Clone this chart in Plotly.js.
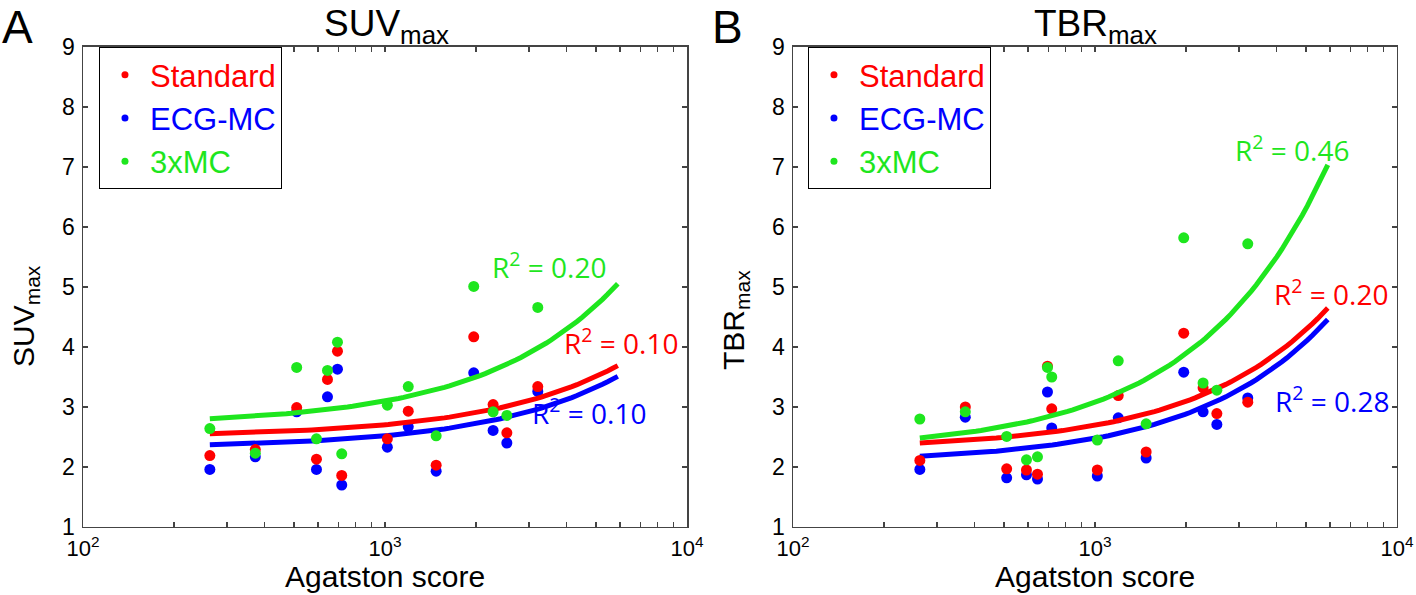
<!DOCTYPE html>
<html>
<head>
<meta charset="utf-8">
<script src="https://cdn.plot.ly/plotly-3.0.1.min.js"></script>
<style>
  html, body { margin: 0; padding: 0; background: #fff; }
  #chart { width: 1416px; height: 595px; }
</style>
</head>
<body>
<div id="chart"></div>
<script>
// Agatston score of each patient (same for both panels)
const agatston = [263, 372, 510, 593, 645, 696, 719, 1018, 1194, 1477, 1967, 2280, 2532, 3205];

// panel A: SUVmax
const suvStandard = [2.19, 2.29, 2.99, 2.13, 3.46, 3.93, 1.86, 2.47, 2.93, 2.03, 4.17, 3.04, 2.57, 3.34];
const suvEcg      = [1.96, 2.17, 2.92, 1.96, 3.17, 3.63, 1.70, 2.33, 2.67, 1.93, 3.57, 2.61, 2.40, 3.26];
const suv3x       = [2.64, 2.23, 3.66, 2.47, 3.61, 4.08, 2.22, 3.03, 3.34, 2.52, 5.01, 2.92, 2.86, 4.66];

// panel B: TBRmax
const tbrStandard = [2.11, 3.00, 1.97, 1.95, 1.88, 3.68, 2.97, 1.95, 3.19, 2.25, 4.23, 3.32, 2.89, 3.08];
const tbrEcg      = [1.96, 2.83, 1.82, 1.87, 1.80, 3.25, 2.65, 1.85, 2.82, 2.15, 3.58, 2.92, 2.71, 3.15];
const tbr3x       = [2.80, 2.92, 2.51, 2.12, 2.17, 3.66, 3.50, 2.45, 3.77, 2.72, 5.82, 3.40, 3.28, 5.72];

// linear fits y = a + b*x  (order: Standard, ECG-MC, 3xMC)
const fitRange = [263, 5900];
const suvFitA = [2.502, 2.317, 2.70];
const suvFitB = [2.013e-4, 2.022e-4, 3.99e-4];
const suvR2   = ['0.10', '0.10', '0.20'];
const tbrFitA = [2.295, 2.074, 2.27];
const tbrFitB = [3.99e-4, 4.04e-4, 8.08e-4];
const tbrR2   = ['0.20', '0.28', '0.46'];

const seriesNames  = ['Standard', 'ECG-MC', '3xMC'];
const seriesColors = ['#ff0000', '#0000ff', '#1ee61e'];

const xTickVals = [];
const xTickText = [];
for (let d = 2; d <= 4; d++) {
  for (let m = 1; m <= 9; m++) {
    if (d === 4 && m > 1) break;
    xTickVals.push(m * Math.pow(10, d));
    xTickText.push(m === 1 ? '10<sup>' + d + '</sup>' : '');
  }
}

function fitCurve(a, b) {
  const xs = [], ys = [];
  const l0 = Math.log10(fitRange[0]), l1 = Math.log10(fitRange[1]);
  for (let i = 0; i <= 80; i++) {
    const x = Math.pow(10, l0 + (l1 - l0) * i / 80);
    xs.push(x);
    ys.push(a + b * x);
  }
  return {xs, ys};
}

const traces = [];
function addPanel(ys, fa, fb, xa, ya, legendId) {
  // draw order: ECG-MC, Standard, 3xMC
  [1, 0, 2].forEach(k => {
    traces.push({
      x: agatston, y: ys[k], xaxis: xa, yaxis: ya,
      type: 'scatter', mode: 'markers', showlegend: false,
      marker: {color: seriesColors[k], size: 11}
    });
    const c = fitCurve(fa[k], fb[k]);
    traces.push({
      x: c.xs, y: c.ys, xaxis: xa, yaxis: ya,
      type: 'scatter', mode: 'lines', showlegend: false,
      line: {color: seriesColors[k], width: 5}
    });
  });
  // legend entries
  [0, 1, 2].forEach(k => {
    traces.push({
      x: [null], y: [null], xaxis: xa, yaxis: ya,
      type: 'scatter', mode: 'markers',
      name: '<span style="color:' + seriesColors[k] + '">' + seriesNames[k] + '</span>',
      legend: legendId, legendgroup: legendId + k,
      marker: {color: seriesColors[k], size: 7}
    });
  });
}
addPanel([suvStandard, suvEcg, suv3x], suvFitA, suvFitB, 'x', 'y', 'legend');
addPanel([tbrStandard, tbrEcg, tbr3x], tbrFitA, tbrFitB, 'x2', 'y2', 'legend2');

const font = 'Liberation Sans, Arial, sans-serif';
const axisX = {
  type: 'log', range: [2, 4],
  tickmode: 'array', tickvals: xTickVals, ticktext: xTickText,
  ticks: 'inside', ticklen: 5, tickwidth: 1.2, tickcolor: '#444',
  showline: true, linecolor: '#444', linewidth: 1.5, mirror: 'ticks',
  showgrid: false, zeroline: false,
  tickfont: {family: font, size: 22, color: '#000'},
  ticklabelstandoff: 1,
  automargin: false
};
const axisY = {
  range: [1, 9], dtick: 1,
  ticks: 'inside', ticklen: 5, tickwidth: 1.2, tickcolor: '#444',
  showline: true, linecolor: '#444', linewidth: 1.5, mirror: 'ticks',
  showgrid: false, zeroline: false,
  tickfont: {family: font, size: 23, color: '#000'},
  ticklabelstandoff: 2,
  automargin: false
};
const yDom = [0.11429, 0.92101];

const legendBase = {
  yanchor: 'top', xanchor: 'left', y: 0.921,
  bgcolor: '#fff', bordercolor: '#000', borderwidth: 1,
  font: {family: font, size: 31},
  itemwidth: 40, tracegroupgap: 0, itemclick: false
};

function r2Note(xref, yref, logx, y, color, r2) {
  return {
    xref: xref, yref: yref, x: logx, y: y, xanchor: 'left', yanchor: 'middle',
    text: 'R<sup>2</sup> = ' + r2, showarrow: false,
    font: {family: 'Open Sans, sans-serif', size: 28, color: color}
  };
}

function paperText(px, py, text, size, angle, anchor) {
  return {
    xref: 'paper', yref: 'paper', x: px / 1416, y: 1 - py / 595,
    xanchor: anchor || 'center', yanchor: 'middle', textangle: angle || 0,
    text: text, showarrow: false, font: {family: font, size: size, color: '#000'}
  };
}

function bottomText(px, text, size) {
  return {
    xref: 'paper', yref: 'paper', x: px / 1416, y: 0,
    xanchor: 'center', yanchor: 'bottom',
    text: text, showarrow: false, font: {family: font, size: size, color: '#000'}
  };
}

const layout = {
  width: 1416, height: 595,
  margin: {l: 0, r: 0, t: 0, b: 0},
  paper_bgcolor: '#fff', plot_bgcolor: '#fff',
  showlegend: true,
  xaxis: Object.assign({}, axisX, {domain: [0.05862, 0.48517], anchor: 'y'}),
  yaxis: Object.assign({}, axisY, {domain: yDom, anchor: 'x'}),
  xaxis2: Object.assign({}, axisX, {domain: [0.56003, 0.98658], anchor: 'y2'}),
  yaxis2: Object.assign({}, axisY, {domain: yDom, anchor: 'x2'}),
  legend: Object.assign({}, legendBase, {x: 0.0699}),
  legend2: Object.assign({}, legendBase, {x: 0.5706}),
  annotations: [
    paperText(0, 27, 'A', 46, 0, 'left'),
    paperText(710, 27, 'B', 46, 0, 'left'),
    paperText(386, 26, 'SUV<sub>max</sub>', 37),
    paperText(1095, 26, 'TBR<sub>max</sub>', 37),
    paperText(25, 316, 'SUV<sub>max</sub>', 30, -90),
    paperText(735, 320, 'TBR<sub>max</sub>', 30, -90),
    bottomText(385, 'Agatston score', 30),
    bottomText(1095, 'Agatston score', 30),
    r2Note('x', 'y', 3.348, 5.36, seriesColors[2], suvR2[2]),
    r2Note('x', 'y', 3.586, 4.09, seriesColors[0], suvR2[0]),
    r2Note('x', 'y', 3.480, 2.92, seriesColors[1], suvR2[1]),
    r2Note('x2', 'y2', 3.457, 7.30, seriesColors[2], tbrR2[2]),
    r2Note('x2', 'y2', 3.586, 4.90, seriesColors[0], tbrR2[0]),
    r2Note('x2', 'y2', 3.589, 3.13, seriesColors[1], tbrR2[1])
  ]
};

Plotly.newPlot('chart', traces, layout, {displayModeBar: false, staticPlot: true});
</script>
</body>
</html>
